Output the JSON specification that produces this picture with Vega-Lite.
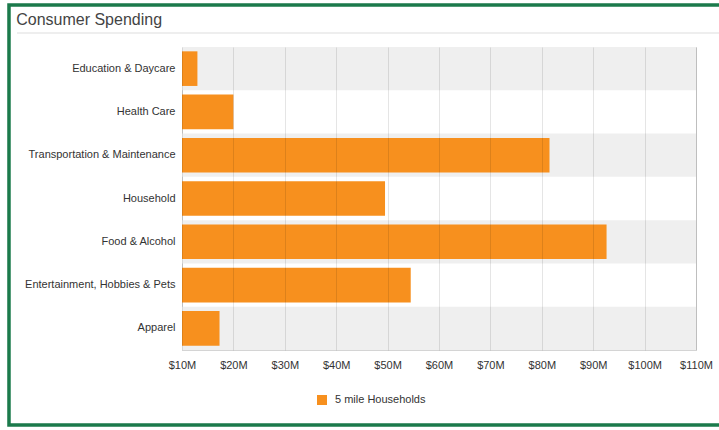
{
  "$schema": "https://vega.github.io/schema/vega-lite/v6.json",
  "autosize": {"type": "none"},
  "padding": {"left": 182, "top": 47, "right": 23, "bottom": 80},
  "width": 514,
  "height": 303,
  "background": "white",
  "data": {
    "values": [
      {"category": "Education & Daycare", "value": 13.0, "series": "5 mile Households"},
      {"category": "Health Care", "value": 20.0, "series": "5 mile Households"},
      {"category": "Transportation & Maintenance", "value": 81.5, "series": "5 mile Households"},
      {"category": "Household", "value": 49.5, "series": "5 mile Households"},
      {"category": "Food & Alcohol", "value": 92.6, "series": "5 mile Households"},
      {"category": "Entertainment, Hobbies & Pets", "value": 54.5, "series": "5 mile Households"},
      {"category": "Apparel", "value": 17.3, "series": "5 mile Households"}
    ]
  },
  "layer": [
    {
      "layer": [
        {
          "transform": [
            {"window": [{"op": "row_number", "as": "rn"}]},
            {"filter": "datum.rn % 2 == 1"}
          ],
          "mark": {"type": "rect", "color": "#efefef"},
          "encoding": {
            "x": {"datum": 10, "type": "quantitative", "scale": {"domain": [10, 110], "zero": false, "nice": false}},
            "x2": {"datum": 110},
            "y": {"field": "category", "type": "nominal", "sort": null}
          }
        },
        {
          "mark": {"type": "bar", "height": {"band": 0.8}},
          "encoding": {
            "y": {
              "field": "category",
              "type": "nominal",
              "sort": null,
              "title": null,
              "scale": {
                "domain": ["Education & Daycare", "Health Care", "Transportation & Maintenance", "Household", "Food & Alcohol", "Entertainment, Hobbies & Pets", "Apparel"],
                "paddingInner": 0,
                "paddingOuter": 0
              },
              "axis": {
                "ticks": false,
                "domain": false,
                "labelPadding": 7,
                "labelFontSize": 11,
                "labelFont": "Liberation Sans",
                "labelColor": "#333333",
                "labelLimit": 250
              }
            },
            "x": {
              "field": "value",
              "type": "quantitative",
              "title": null,
              "scale": {"domain": [10, 110], "zero": false, "nice": false},
              "axis": {
                "values": [10, 20, 30, 40, 50, 60, 70, 80, 90, 100, 110],
                "labelExpr": "'$' + datum.value + 'M'",
                "ticks": false,
                "domain": false,
                "grid": true,
                "gridColor": "#000000",
                "gridOpacity": 0.1,
                "zindex": 1,
                "labelPadding": 9,
                "labelFontSize": 11,
                "labelFont": "Liberation Sans",
                "labelColor": "#333333",
                "labelFlush": false
              }
            },
            "x2": {"datum": 10},
            "color": {
              "field": "series",
              "type": "nominal",
              "scale": {"range": ["#f7901e"]},
              "legend": {
                "title": null,
                "orient": "none",
                "legendX": 134,
                "legendY": 347,
                "symbolType": "square",
                "symbolSize": 100,
                "symbolOpacity": 1,
                "labelOffset": 7,
                "labelFontSize": 11,
                "labelFont": "Liberation Sans",
                "labelColor": "#333333",
                "padding": 0
              }
            }
          }
        }
      ]
    },
    {
      "data": {"values": [{"heading": "Consumer Spending"}]},
      "layer": [
        {
          "mark": {"type": "rect", "fill": null, "fillOpacity": 0, "stroke": "#1b7a4b", "strokeWidth": 3.5},
          "encoding": {
            "x": {"datum": -0.3366, "type": "quantitative", "scale": {"domain": [0, 1], "nice": false, "zero": false}, "axis": null},
            "x2": {"datum": 1.06},
            "y": {"datum": 1.1386, "type": "quantitative", "scale": {"domain": [0, 1], "nice": false, "zero": false}, "axis": null},
            "y2": {"datum": -0.2475}
          }
        },
        {
          "mark": {"type": "rule", "stroke": "#dddddd", "strokeWidth": 1},
          "encoding": {
            "x": {"datum": -0.321, "type": "quantitative"},
            "x2": {"datum": 1.06},
            "y": {"datum": 1.0462, "type": "quantitative"}
          }
        },
        {
          "mark": {"type": "text", "align": "left", "baseline": "alphabetic", "fontSize": 16, "font": "Liberation Sans", "color": "#444444"},
          "encoding": {
            "x": {"datum": -0.3226, "type": "quantitative"},
            "y": {"datum": 1.0726, "type": "quantitative"},
            "text": {"field": "heading"}
          }
        }
      ]
    }
  ],
  "resolve": {"scale": {"x": "independent", "y": "independent"}},
  "config": {
    "view": {"stroke": "#d4d4d4", "strokeWidth": 1},
    "font": "Liberation Sans"
  }
}
